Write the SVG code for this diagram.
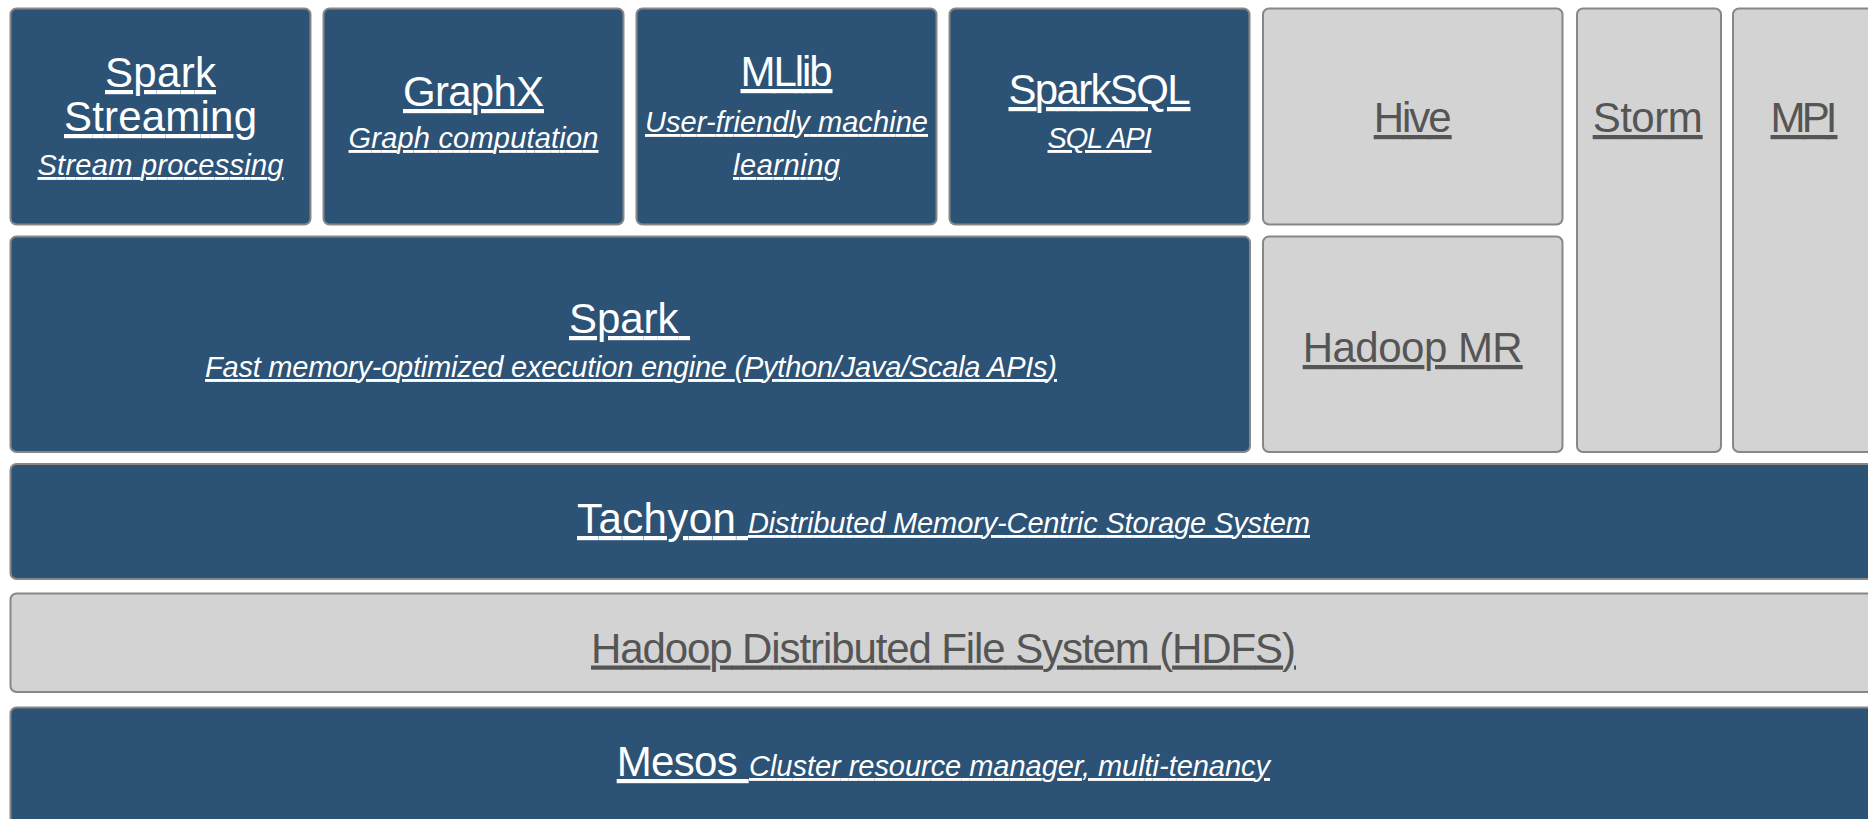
<svg xmlns="http://www.w3.org/2000/svg" width="1868" height="819" viewBox="0 0 1868 819">
<style>
  .blue { fill: #2c5275; stroke: #878787; stroke-width: 2; }
  .grey { fill: #d3d3d3; stroke: #878787; stroke-width: 2; }
  text { font-family: "Liberation Sans", Arial, sans-serif; text-decoration: underline; }
  .t { font-size: 42px; }
  .s { font-size: 29px; font-style: italic; }
  .w { fill: #ffffff; }
  .g { fill: #555555; }
  .m { text-anchor: middle; }
</style>
<rect width="1868" height="819" fill="#ffffff"/>
<g id="spark-streaming">
  <rect class="blue" x="10.5" y="8.5" width="300" height="216" rx="6"/>
  <text class="t w m" x="160.5" y="87" textLength="111">Spark</text>
  <text class="t w m" x="160.5" y="131" textLength="193">Streaming</text>
  <text class="s w m" x="160.5" y="175" textLength="246">Stream processing</text>
</g>
<g id="graphx">
  <rect class="blue" x="323.5" y="8.5" width="300" height="216" rx="6"/>
  <text class="t w m" x="473.5" y="106" textLength="141">GraphX</text>
  <text class="s w m" x="473.5" y="148" textLength="250">Graph computation</text>
</g>
<g id="mllib">
  <rect class="blue" x="636.5" y="8.5" width="300" height="216" rx="6"/>
  <text class="t w m" x="786.5" y="86" textLength="92">MLlib</text>
  <text class="s w m" x="786.5" y="132" textLength="283">User-friendly machine</text>
  <text class="s w m" x="786.5" y="175" textLength="107">learning</text>
</g>
<g id="sparksql">
  <rect class="blue" x="949.5" y="8.5" width="300" height="216" rx="6"/>
  <text class="t w m" x="1099.5" y="104" textLength="182">SparkSQL</text>
  <text class="s w m" x="1099.5" y="148" textLength="104">SQL API</text>
</g>
<g id="hive">
  <rect class="grey" x="1263" y="8.5" width="299.5" height="216" rx="6"/>
  <text class="t g m" x="1412.7" y="132" textLength="78">Hive</text>
</g>
<g id="storm">
  <rect class="grey" x="1577" y="8.5" width="144" height="443.5" rx="6"/>
  <text class="t g m" x="1647.7" y="132" textLength="110">Storm</text>
</g>
<g id="mpi">
  <rect class="grey" x="1733" y="8.5" width="142" height="443.5" rx="6"/>
  <text class="t g m" x="1804" y="132" textLength="67">MPI</text>
</g>
<g id="spark">
  <rect class="blue" x="10.5" y="236.5" width="1239.5" height="215.5" rx="6"/>
  <text class="t w m" x="629.5" y="333" textLength="121" xml:space="preserve">Spark </text>
  <text class="s w m" x="631" y="377" textLength="852">Fast memory-optimized execution engine (Python/Java/Scala APIs)</text>
</g>
<g id="hadoop-mr">
  <rect class="grey" x="1263" y="236.5" width="299.5" height="215.5" rx="6"/>
  <text class="t g m" x="1412.7" y="362" textLength="220">Hadoop MR</text>
</g>
<g id="tachyon">
  <rect class="blue" x="10.5" y="464" width="1866" height="115" rx="6"/>
  <text class="t w" x="577" y="533" textLength="171" xml:space="preserve">Tachyon </text>
  <text class="s w" x="748" y="533" textLength="562">Distributed Memory-Centric Storage System</text>
</g>
<g id="hdfs">
  <rect class="grey" x="10.5" y="593.5" width="1866" height="98.5" rx="6"/>
  <text class="t g m" x="943.5" y="662.5" textLength="705">Hadoop Distributed File System (HDFS)</text>
</g>
<g id="mesos">
  <rect class="blue" x="10.5" y="707.5" width="1866" height="130" rx="6"/>
  <text class="t w" x="616.7" y="776" textLength="132" xml:space="preserve">Mesos </text>
  <text class="s w" x="749" y="776" textLength="521">Cluster resource manager, multi-tenancy</text>
</g>
<g id="connectors"></g>
</svg>
